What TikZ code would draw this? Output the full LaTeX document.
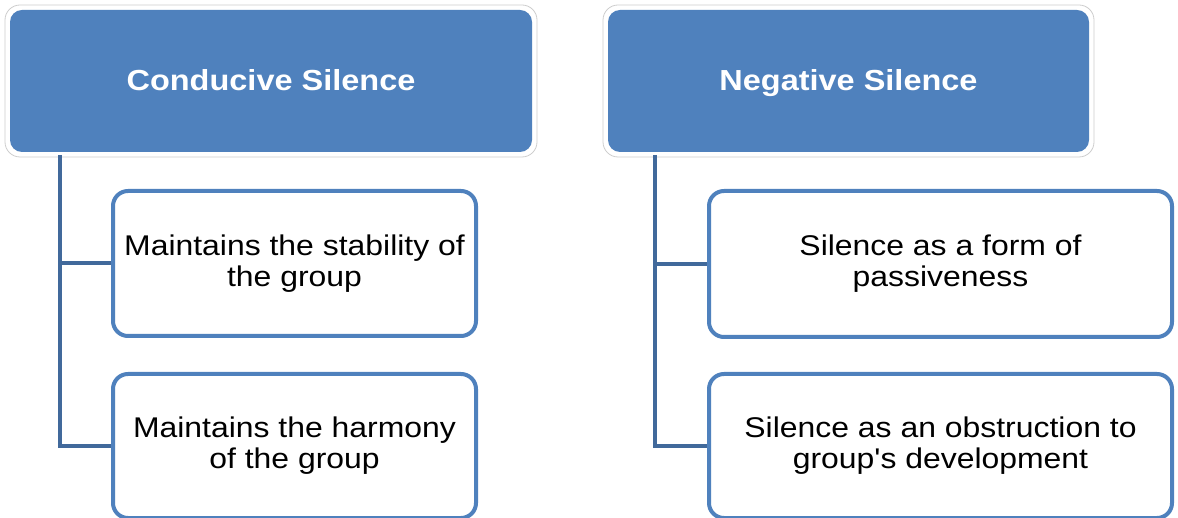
\documentclass[tikz,border=0pt]{standalone}
\usepackage{fontspec}
\newfontfamily\lblfont{Liberation Sans}[FakeStretch=1.12]
\definecolor{hdrblue}{RGB}{79,129,189}
\definecolor{linkblue}{RGB}{65,105,155}
\definecolor{rimgray}{RGB}{205,205,205}
\begin{document}
\begin{tikzpicture}[x=1pt,y=-1pt,
  header/.style={rounded corners=12pt, fill=hdrblue, draw=none,
    text=white, font=\lblfont\bfseries\fontsize{29}{33}\selectfont,
    align=center, inner sep=0pt, text height=21pt, text depth=2pt},
  headerrim/.style={rounded corners=15pt, fill=white, draw=rimgray, line width=0.8pt},
  item/.style={rounded corners=15pt, draw=hdrblue, line width=4pt, fill=white,
    font=\lblfont\fontsize{28.5}{31}\selectfont, align=center, inner sep=0pt},
  link/.style={draw=linkblue, line width=4pt}]
  \useasboundingbox (0,0) rectangle (1178,518);

  % header boxes with a white rim
  \draw[headerrim] (5,5) rectangle (537,157);
  \node[header, minimum width=522pt, minimum height=142pt] (hL) at (271,81) {Conducive Silence};
  \draw[headerrim] (603,5) rectangle (1094,157);
  \node[header, minimum width=481pt, minimum height=142pt] (hR) at (848.5,81) {Negative Silence};

  % child boxes
  \node[item, minimum width=363pt, minimum height=145pt] (cL1) at (294.5,263.5)
    {Maintains the stability of\\the group};
  \node[item, minimum width=363pt, minimum height=144pt] (cL2) at (294.5,446)
    {Maintains the harmony\\of the group};
  \node[item, minimum width=463pt, minimum height=146pt] (cR1) at (940.5,264)
    {Silence as a form of\\passiveness};
  \node[item, minimum width=463pt, minimum height=144pt] (cR2) at (940.5,446)
    {Silence as an obstruction to\\group's development};

  % tree connectors
  \coordinate (sL) at (60,155);
  \coordinate (sR) at (655,155);
  \draw[link] (sL) |- (cL2.west);
  \draw[link] (sL |- cL1.west) -- (cL1.west);
  \draw[link] (sR) |- (cR2.west);
  \draw[link] (sR |- cR1.west) -- (cR1.west);
\end{tikzpicture}
\end{document}
